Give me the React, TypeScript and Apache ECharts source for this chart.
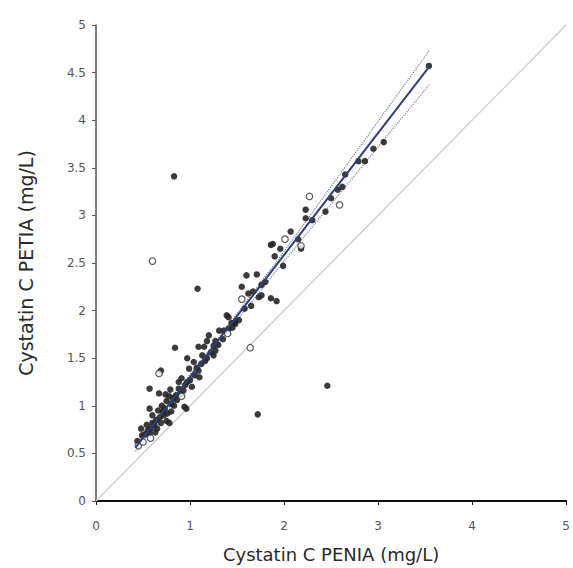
import React, { useEffect, useRef } from "react";
import * as echarts from "echarts";

// Filled markers: [PENIA, PETIA]
const filledPoints: number[][] = [
  [0.83, 3.41], [1.08, 2.23], [2.46, 1.21], [1.72, 0.91],
  [3.54, 4.57], [3.06, 3.77], [2.86, 3.57], [2.79, 3.57], [2.65, 3.43], [2.57, 3.27],
  [2.44, 3.04], [2.23, 3.06], [2.23, 2.97], [2.07, 2.83], [1.88, 2.70], [1.86, 2.69],
  [1.96, 2.65], [2.18, 2.65], [1.99, 2.47], [1.90, 2.57], [1.60, 2.37], [1.71, 2.38],
  [1.55, 2.25], [1.76, 2.27], [1.62, 2.18], [1.73, 2.14], [1.86, 2.13], [1.92, 2.10],
  [1.76, 2.16], [1.39, 1.95], [1.48, 1.86], [1.41, 1.81], [1.31, 1.79], [1.20, 1.74],
  [1.18, 1.68], [1.09, 1.62], [1.25, 1.63], [1.27, 1.58], [1.25, 1.53], [1.13, 1.53],
  [0.84, 1.61], [0.97, 1.50], [1.04, 1.46], [1.09, 1.37], [0.99, 1.39], [0.69, 1.37],
  [0.91, 1.29], [0.97, 1.25], [1.02, 1.20], [0.88, 1.18], [0.85, 1.11], [0.78, 1.10],
  [0.57, 1.18], [0.67, 1.13], [0.75, 1.05], [0.83, 1.00], [0.94, 0.99], [0.80, 0.94],
  [0.71, 0.94], [0.60, 0.90], [0.57, 0.97], [0.64, 0.85], [0.75, 0.84], [0.78, 0.82],
  [0.54, 0.80], [0.48, 0.76], [0.65, 0.76], [0.57, 0.71], [0.49, 0.69], [0.44, 0.63],
  [0.96, 0.97], [1.15, 1.62], [1.27, 1.68], [1.36, 1.79], [1.41, 1.93], [1.48, 1.88],
  [0.62, 0.80], [0.68, 0.88], [0.72, 0.90], [0.70, 1.00], [0.66, 0.95], [0.73, 0.97],
  [0.80, 1.02], [0.86, 1.06], [0.90, 1.12], [0.93, 1.16], [0.82, 1.08], [0.76, 0.92],
  [0.63, 0.72], [0.58, 0.76], [0.52, 0.70], [0.55, 0.74], [0.60, 0.82], [0.69, 0.82],
  [1.00, 1.27], [1.05, 1.32], [1.07, 1.40], [1.12, 1.44], [1.16, 1.47], [0.95, 1.22],
  [1.10, 1.30], [1.18, 1.50], [1.22, 1.56], [1.30, 1.64], [1.35, 1.70], [1.45, 1.82],
  [1.52, 1.90], [1.44, 1.87], [0.88, 1.25], [0.79, 1.17], [0.74, 1.12], [2.62, 3.30],
  [2.30, 2.95], [2.15, 2.75], [1.80, 2.30], [1.67, 2.20], [1.65, 2.05], [1.58, 2.02],
  [2.50, 3.18], [2.95, 3.70],
];

// Open markers
const openPoints: number[][] = [
  [0.60, 2.52], [1.64, 1.61], [0.67, 1.34], [0.91, 1.10], [1.55, 2.12], [2.01, 2.75],
  [2.18, 2.68], [2.59, 3.11], [2.27, 3.20], [0.45, 0.58], [0.50, 0.62], [0.58, 0.66],
  [1.40, 1.76],
];

// Regression line and its confidence band
const fitLine: number[][] = [[0.42, 0.56], [3.55, 4.57]];
const upperBand: number[][] = [[0.42, 0.60], [1.2, 1.58], [2.0, 2.62], [3.55, 4.74]];
const lowerBand: number[][] = [[0.42, 0.52], [1.2, 1.53], [2.0, 2.52], [3.55, 4.38]];
// Line of identity
const identityLine: number[][] = [[0, 0], [5, 5]];

const xTitle = "Cystatin C PENIA (mg/L)";
const yTitle = "Cystatin C PETIA (mg/L)";

export default function App() {
  const ref = useRef<HTMLDivElement>(null);
  useEffect(() => {
    document.body.style.margin = "0";
    if (!ref.current) return;
    const chart = echarts.init(ref.current, undefined, { renderer: "svg" });
    const font = "DejaVu Sans, Liberation Sans, sans-serif";
    chart.setOption({
      animation: false,
      backgroundColor: "#fff",
      textStyle: { fontFamily: font },
      grid: { left: 96, right: -4, top: 25, bottom: 65 },
      xAxis: {
        type: "value",
        min: 0,
        max: 5,
        interval: 1,
        name: xTitle,
        nameLocation: "middle",
        nameGap: 44,
        nameTextStyle: { fontSize: 18, color: "#2a2a2a", fontFamily: font },
        axisLine: { lineStyle: { color: "#111", width: 2 } },
        axisTick: { length: 4, lineStyle: { color: "#111" } },
        axisLabel: { color: "#555", fontSize: 12, margin: 19, fontFamily: font },
        splitLine: { show: false },
      },
      yAxis: {
        type: "value",
        min: 0,
        max: 5,
        interval: 0.5,
        name: yTitle,
        nameLocation: "middle",
        nameGap: 61,
        nameRotate: 90,
        nameTextStyle: { fontSize: 19, color: "#2a2a2a", fontFamily: font },
        axisLine: { lineStyle: { color: "#555", width: 1.5 } },
        axisTick: { length: 4, lineStyle: { color: "#555" } },
        axisLabel: { color: "#555", fontSize: 12, margin: 10, fontFamily: font },
        splitLine: { show: false },
      },
      series: [
        {
          type: "line",
          data: identityLine,
          symbol: "none",
          lineStyle: { color: "#cccccc", width: 1.3 },
          z: 1,
        },
        {
          type: "line",
          data: upperBand,
          symbol: "none",
          lineStyle: { color: "#6f7fb5", width: 1.2, type: "dotted" },
          z: 2,
        },
        {
          type: "line",
          data: lowerBand,
          symbol: "none",
          lineStyle: { color: "#6f7fb5", width: 1.2, type: "dotted" },
          z: 2,
        },
        {
          type: "scatter",
          data: filledPoints,
          symbol: "circle",
          symbolSize: 6.5,
          itemStyle: { color: "#262626", opacity: 0.9 },
          z: 3,
        },
        {
          type: "scatter",
          data: openPoints,
          symbol: "circle",
          symbolSize: 6.5,
          itemStyle: { color: "#ffffff", borderColor: "#333", borderWidth: 1.2 },
          z: 3,
        },
        {
          type: "line",
          data: fitLine,
          symbol: "none",
          lineStyle: { color: "#2e3f78", width: 2 },
          z: 4,
        },
      ],
    });
    return () => chart.dispose();
  }, []);
  return (
    <div
      ref={ref}
      style={{ position: "absolute", left: 0, top: 0, width: 573, height: 568 }}
    />
  );
}
